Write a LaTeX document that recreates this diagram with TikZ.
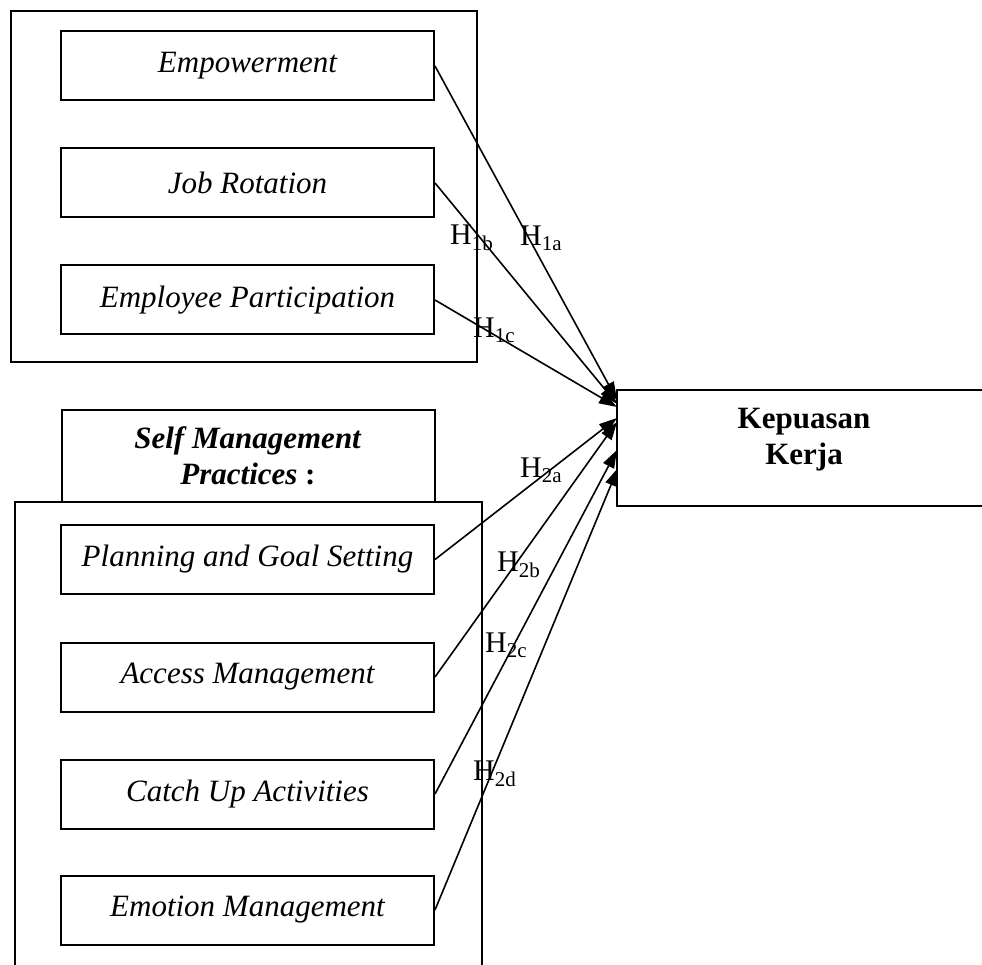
\documentclass[tikz,border=0pt]{standalone}
\usepackage{fontspec}
\setmainfont{Liberation Serif}
\usetikzlibrary{arrows.meta}
\begin{document}
\begin{tikzpicture}[x=1pt,y=-1pt,
  frame/.style={draw, line width=2pt, inner sep=0pt},
  itembox/.style={frame, minimum width=373pt, minimum height=69pt,
    font=\fontsize{31}{36}\selectfont\itshape},
  link/.style={line width=1.6pt, -{Triangle[length=18pt,width=12pt]}},
  hyp/.style={anchor=west, inner sep=0pt, font=\fontsize{30}{36}\selectfont}]
\useasboundingbox (0,0) rectangle (982,965);

% upper group
\node[frame, minimum width=466pt, minimum height=350pt] (grp1) at (244,186.5) {};
\node[itembox] (emp) at (247.5,66) {Empowerment};
\node[itembox] (jr)  at (247.5,183) {Job Rotation};
\node[itembox] (ep)  at (247.5,300) {Employee Participation};

% self management header and lower group
\node[frame, minimum width=373pt, minimum height=92pt, align=center,
  font=\fontsize{31}{36}\selectfont\bfseries] (smp) at (248,455.5)
  {\textit{Self Management}\\\textit{Practices} :};
\node[frame, minimum width=467pt, minimum height=498pt] (grp2) at (248,751) {};
\node[itembox] (pgs) at (247.5,559.5) {Planning and Goal Setting};
\node[itembox] (am)  at (247.5,677) {Access Management};
\node[itembox] (cua) at (247.5,794) {Catch Up Activities};
\node[itembox] (em)  at (247.5,910) {Emotion Management};

% dependent variable
\node[frame, minimum width=383pt, minimum height=116pt] (kep) at (808.5,447.5) {};
\node[align=center, inner sep=0pt, font=\fontsize{31}{36}\selectfont\bfseries]
  (keptext) at (804,440) {Kepuasan\\Kerja};

% arrow ends on the left side of the dependent variable
\coordinate (t1a) at (617,400);
\coordinate (t1b) at (617,404);
\coordinate (t1c) at (617,407);
\coordinate (t2a) at (617,418);
\coordinate (t2b) at (617,422);
\coordinate (t2c) at (617,450);
\coordinate (t2d) at (618,468);

\draw[link] (emp.east) -- (t1a);
\draw[link] (jr.east)  -- (t1b);
\draw[link] (ep.east)  -- (t1c);
\draw[link] (pgs.east) -- (t2a);
\draw[link] (am.east)  -- (t2b);
\draw[link] (cua.east) -- (t2c);
\draw[link] (em.east)  -- (t2d);

% hypothesis labels
\node[hyp] (h1a) at (520,238) {H\textsubscript{1a}};
\node[hyp] (h1b) at (450,238) {H\textsubscript{1b}};
\node[hyp] (h1c) at (473,330) {H\textsubscript{1c}};
\node[hyp] (h2a) at (520,470) {H\textsubscript{2a}};
\node[hyp] (h2b) at (497,565) {H\textsubscript{2b}};
\node[hyp] (h2c) at (485,645) {H\textsubscript{2c}};
\node[hyp] (h2d) at (473,774) {H\textsubscript{2d}};
\end{tikzpicture}
\end{document}
